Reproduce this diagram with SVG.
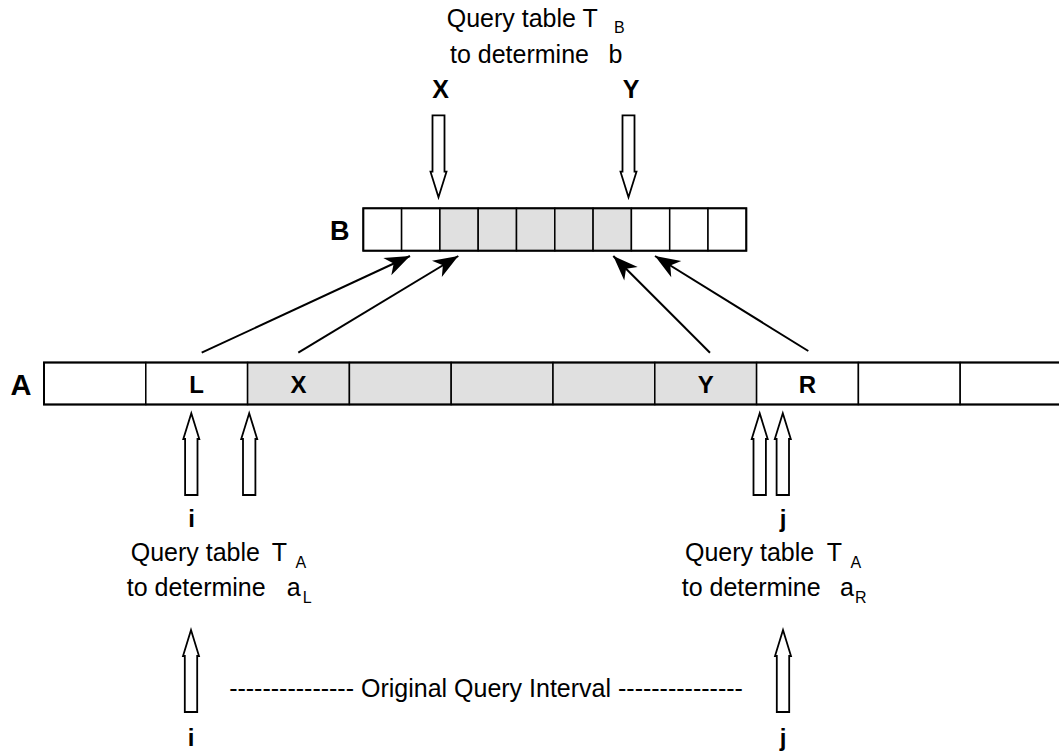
<svg xmlns="http://www.w3.org/2000/svg" width="1059" height="753" viewBox="0 0 1059 753">
  <style>
    .t { font-family: "Liberation Sans", Arial, sans-serif; font-size: 25px; fill: #000; }
    .sub { font-family: "Liberation Sans", Arial, sans-serif; font-size: 16px; fill: #000; }
    .b { font-family: "Liberation Sans", Arial, sans-serif; font-weight: bold; fill: #000; }
    .cell { fill: #fff; stroke: #000; stroke-width: 1.5; }
    .sh { fill: #e0e0e0; stroke: #000; stroke-width: 1.5; }
    .outline { fill: none; stroke: #000; stroke-width: 2; }
    .hollow { fill: #fff; stroke: #000; stroke-width: 1.8; stroke-linejoin: miter; }
    .line { stroke: #000; stroke-width: 2; fill: none; }
  </style>
  <defs>
    <marker id="head" markerUnits="userSpaceOnUse" markerWidth="30" markerHeight="24" refX="0" refY="0" viewBox="-26 -12 28 24" orient="auto">
      <path d="M0,0 L-25,-9.5 L-18,0 L-25,9.5 Z" fill="#000"/>
    </marker>
  </defs>

  <rect width="1059" height="753" fill="#fff"/>

  <!-- Top label -->
  <g id="label-top">
    <text class="t" x="446.7" y="27">Query table T</text>
    <text class="sub" x="614" y="33">B</text>
    <text class="t" x="450" y="63">to determine</text>
    <text class="t" x="608.5" y="63">b</text>
    <text class="b" font-size="25" x="440.5" y="98" text-anchor="middle">X</text>
    <text class="b" font-size="25" x="631" y="98" text-anchor="middle">Y</text>
  </g>

  <!-- Array B -->
  <g id="array-B">
    <text class="b" font-size="27" x="330" y="240">B</text>
    <rect class="cell" x="363.3" y="208.3" width="38.3" height="42.4"/>
    <rect class="cell" x="401.6" y="208.3" width="38.3" height="42.4"/>
    <rect class="sh" x="439.9" y="208.3" width="38.3" height="42.4"/>
    <rect class="sh" x="478.2" y="208.3" width="38.3" height="42.4"/>
    <rect class="sh" x="516.5" y="208.3" width="38.3" height="42.4"/>
    <rect class="sh" x="554.8" y="208.3" width="38.3" height="42.4"/>
    <rect class="sh" x="593.1" y="208.3" width="38.3" height="42.4"/>
    <rect class="cell" x="631.4" y="208.3" width="38.3" height="42.4"/>
    <rect class="cell" x="669.7" y="208.3" width="38.3" height="42.4"/>
    <rect class="cell" x="708" y="208.3" width="38.3" height="42.4"/>
    <rect class="outline" x="363.3" y="208.3" width="383" height="42.4"/>
  </g>

  <!-- Array A -->
  <g id="array-A">
    <text class="b" font-size="29" x="21" y="395" text-anchor="middle">A</text>
    <rect class="cell" x="44" y="362.5" width="101.8" height="42"/>
    <rect class="cell" x="145.8" y="362.5" width="101.8" height="42"/>
    <rect class="sh" x="247.6" y="362.5" width="101.8" height="42"/>
    <rect class="sh" x="349.4" y="362.5" width="101.8" height="42"/>
    <rect class="sh" x="451.2" y="362.5" width="101.8" height="42"/>
    <rect class="sh" x="553" y="362.5" width="101.8" height="42"/>
    <rect class="sh" x="654.8" y="362.5" width="101.8" height="42"/>
    <rect class="cell" x="756.6" y="362.5" width="101.8" height="42"/>
    <rect class="cell" x="858.4" y="362.5" width="101.8" height="42"/>
    <rect class="cell" x="960.2" y="362.5" width="101.8" height="42"/>
    <rect class="outline" x="44" y="362.5" width="1018" height="42"/>
    <text class="b" font-size="24" x="196.7" y="393" text-anchor="middle">L</text>
    <text class="b" font-size="24" x="298.5" y="393" text-anchor="middle">X</text>
    <text class="b" font-size="24" x="705.7" y="393" text-anchor="middle">Y</text>
    <text class="b" font-size="24" x="807.5" y="393" text-anchor="middle">R</text>
  </g>

  <!-- Left query label -->
  <g id="label-left">
    <text class="b" font-size="24" x="191.5" y="527" text-anchor="middle">i</text>
    <text class="t" x="130.7" y="561">Query table</text>
    <text class="t" x="271.7" y="561">T</text>
    <text class="sub" x="295.5" y="568">A</text>
    <text class="t" x="126.7" y="596">to determine</text>
    <text class="t" x="286.7" y="596">a</text>
    <text class="sub" x="302.7" y="603">L</text>
  </g>

  <!-- Right query label -->
  <g id="label-right">
    <text class="b" font-size="24" x="783" y="527" text-anchor="middle">j</text>
    <text class="t" x="685" y="561">Query table</text>
    <text class="t" x="826.7" y="561">T</text>
    <text class="sub" x="850.5" y="568">A</text>
    <text class="t" x="681.7" y="596">to determine</text>
    <text class="t" x="840" y="596">a</text>
    <text class="sub" x="855" y="603">R</text>
  </g>

  <!-- Bottom interval -->
  <g id="label-interval">
    <text class="t" x="486" y="697" text-anchor="middle">--------------- Original Query Interval ---------------</text>
    <text class="b" font-size="24" x="191" y="746" text-anchor="middle">i</text>
    <text class="b" font-size="24" x="783" y="746" text-anchor="middle">j</text>
  </g>

  <!-- Connectors -->
  <g id="connectors">
    <!-- hollow down arrows into B -->
    <path class="hollow" d="M432.5,115.3 L444.5,115.3 L444.5,171.7 L446.5,171.7 L438.5,197.3 L430.5,171.7 L432.5,171.7 Z"/>
    <path class="hollow" d="M622.5,115.3 L634.5,115.3 L634.5,171.7 L636.5,171.7 L628.5,197.3 L620.5,171.7 L622.5,171.7 Z"/>
    <!-- diagonal arrows A -> B -->
    <line class="line" x1="201.7" y1="352.7" x2="410" y2="256" marker-end="url(#head)"/>
    <line class="line" x1="298.3" y1="352.7" x2="458.3" y2="256" marker-end="url(#head)"/>
    <line class="line" x1="710" y1="352.7" x2="613.3" y2="256" marker-end="url(#head)"/>
    <line class="line" x1="808.3" y1="351" x2="655" y2="256" marker-end="url(#head)"/>
    <!-- hollow up arrows under A -->
    <path class="hollow" d="M191.3,413.3 L199.3,439 L197.5,439 L197.5,495 L185.1,495 L185.1,439 L183.3,439 Z"/>
    <path class="hollow" d="M249.2,413.3 L257.2,439 L255.4,439 L255.4,495 L243,495 L243,439 L241.2,439 Z"/>
    <path class="hollow" d="M759.7,413.3 L767.7,439 L765.9,439 L765.9,495 L753.5,495 L753.5,439 L751.7,439 Z"/>
    <path class="hollow" d="M782.8,413.3 L790.8,439 L789,439 L789,495 L776.6,495 L776.6,439 L774.8,439 Z"/>
    <!-- hollow up arrows at bottom -->
    <path class="hollow" d="M191,630 L199,656 L197.2,656 L197.2,712 L184.8,712 L184.8,656 L183,656 Z"/>
    <path class="hollow" d="M783,630 L791,656 L789.2,656 L789.2,712 L776.8,712 L776.8,656 L775,656 Z"/>
  </g>
</svg>
